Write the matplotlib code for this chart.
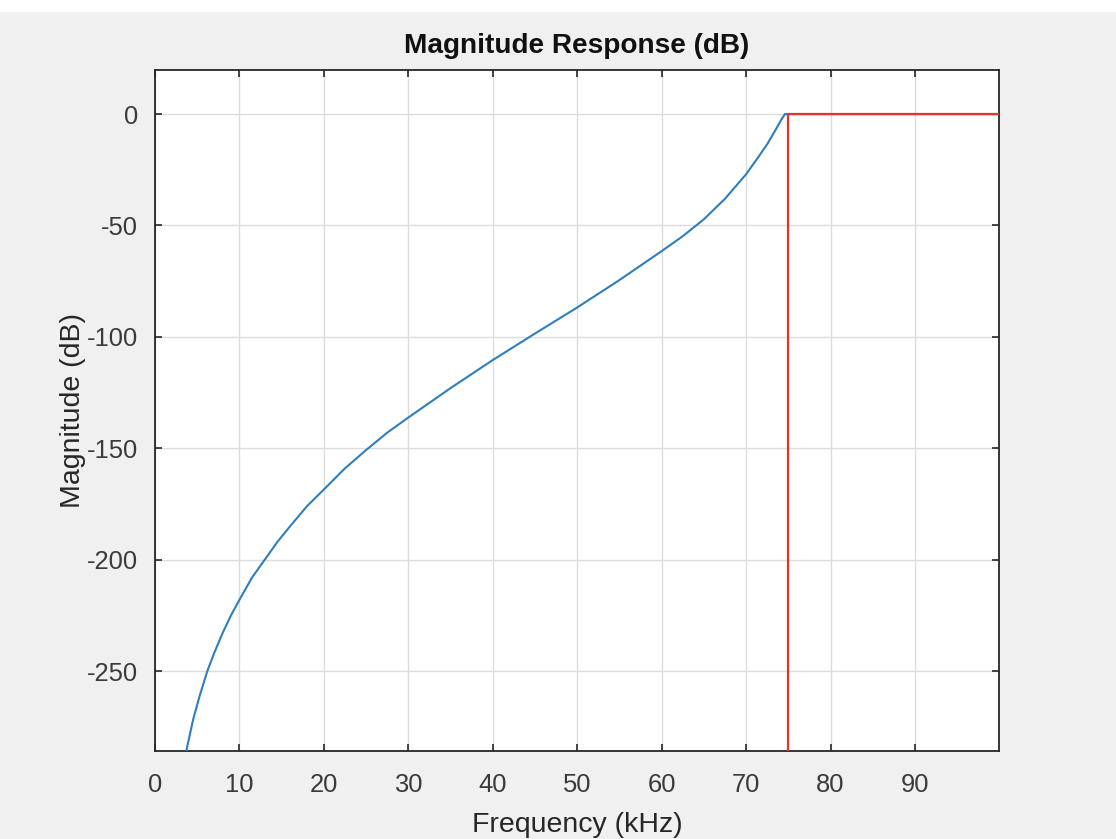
import matplotlib
matplotlib.use("Agg")
import matplotlib.pyplot as plt
from matplotlib.patches import Rectangle

################# Matplotlib Global Conf #########################
plt.rcParams["font.family"] = ["Liberation Sans", "DejaVu Sans"]
plt.rcParams["xtick.labelsize"] = 18.4
plt.rcParams["ytick.labelsize"] = 18.4
plt.rcParams["axes.labelsize"] = 20.5
plt.rcParams["axes.unicode_minus"] = False
################# Matplotlib Global Conf #########################

# filter magnitude response (kHz, dB)
freq_khz = [3.7, 4.5, 5.3, 6.2, 7.0, 8.0, 9.0, 10.0, 11.5, 13.0, 14.5, 16.0, 18.0,
            20.0, 22.5, 25.0, 27.5, 30.0, 35.0, 40.0, 45.0, 50.0, 55.0, 60.0,
            62.5, 65.0, 67.5, 70.0, 71.5, 72.5, 73.5, 74.2, 74.6, 75.0, 80.0,
            90.0, 100.0]
mag_db = [-286, -272, -261, -250, -242, -233, -225, -218, -208, -200, -192,
          -185, -176, -168.5, -159, -150.8, -143, -136.2, -123, -110.4, -98.5,
          -86.8, -74.5, -61.5, -54.8, -47.2, -38.0, -27, -19, -13.5, -7,
          -2.3, 0, 0, 0, 0, 0]

# design mask (red)
mask_f = [75, 75, 100]
mask_db = [-400, 0, 0]

xticks = [0, 10, 20, 30, 40, 50, 60, 70, 80, 90]
yticks = [0, -50, -100, -150, -200, -250]

fig = plt.figure(figsize=(11.16, 8.39), dpi=100, facecolor="#f0f0f0")
ax = fig.add_axes([155 / 1116, 1 - 751 / 839, 844 / 1116, 681 / 839])
fig.patches.append(Rectangle((0, 1 - 12 / 839), 1, 12 / 839, transform=fig.transFigure,
                             facecolor="white", edgecolor="none"))

ax.plot(freq_khz, mag_db, color="#2f7ebc", linewidth=1.5, zorder=3)
ax.plot(mask_f, mask_db, color="#e0352b", linewidth=1.6, zorder=4)

ax.set_xlim(0, 99.95)
ax.set_ylim(-285.9, 19.8)
ax.set_xticks(xticks)
ax.set_yticks(yticks)
ax.grid(True, color="#dcdcdc", linewidth=1.0, zorder=0)
ax.set_axisbelow(True)

ax.tick_params(direction="in", length=5, width=1.2, top=True, right=True,
               colors="#262626", labelcolor="#3a3a3a")
ax.tick_params(axis="x", pad=16)
ax.tick_params(axis="y", pad=12)
for sp in ax.spines.values():
    sp.set_color("#262626")
    sp.set_linewidth(1.3)

ax.set_title("Magnitude Response (dB)", fontsize=20.2, fontweight="bold",
             color="#111111", pad=12)
ax.set_xlabel("Frequency (kHz)", color="#262626", labelpad=11)
ax.set_ylabel("Magnitude (dB)", color="#262626", labelpad=1)

fig.savefig("out.png", dpi=100, facecolor=fig.get_facecolor())
